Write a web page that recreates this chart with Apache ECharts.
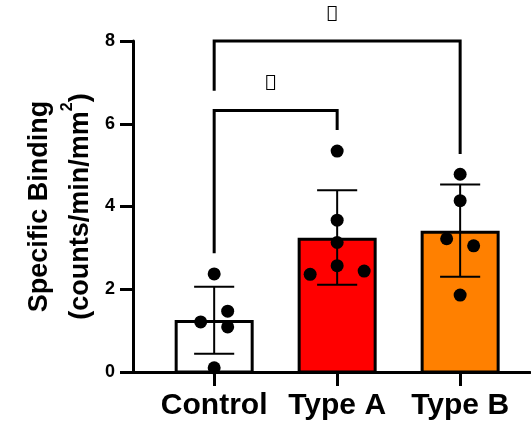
<!DOCTYPE html>
<html>
<head>
<meta charset="utf-8">
<script src="https://cdn.jsdelivr.net/npm/echarts@6/dist/echarts.min.js"></script>
<style>html,body{margin:0;padding:0;background:#fff}#c{width:531px;height:429px}</style>
</head>
<body>
<div id="c"></div>
<script>
// ---- data ----
const categories = ['Control', 'Type A', 'Type B'];
const barMeans = [1.22, 3.21, 3.38];
const errLow = [0.44, 2.11, 2.30];
const errHigh = [2.06, 4.39, 4.53];
const pointsControl = [2.37, 1.21, 1.47, 1.09, 0.10];
const pointsTypeA = [5.34, 3.67, 3.13, 2.57, 2.36, 2.44];
const pointsTypeB = [4.78, 4.14, 3.22, 3.05, 1.86];
const yTicks = [0, 2, 4, 6, 8];
// brackets: [fromCategory, toCategory, topValue, leftEndValue, rightEndValue]
const brackets = [[0, 2, 8.0, 6.80, 5.27], [0, 1, 6.32, 2.87, 5.85]];
const bracketText = ['\uE000', '\uE000'];

// ---- layout (not data) ----
const jitterPx = [[0, -13.5, 13.5, 13.5, 0], [0, 0, 0, 0, -27, 27], [0, 0, -13.5, 13.5, 0]];
const barColors = ['#ffffff', '#ff0000', '#ff8000'];
const FONT = '"Liberation Sans", Arial, sans-serif';
const BAR_W = 0.618;
const CAP_W = 0.163;

const allPoints = [pointsControl, pointsTypeA, pointsTypeB];
const scatterData = [];
allPoints.forEach((arr, ci) => arr.forEach((v, pi) => scatterData.push([ci, v, jitterPx[ci][pi]])));

const chart = echarts.init(document.getElementById('c'), null, {renderer: 'canvas'});
chart.setOption({
  backgroundColor: '#ffffff',
  animation: false,
  grid: {left: 133, right: 1, top: 41, bottom: 57, containLabel: false},
  xAxis: {
    type: 'value', min: -0.66, max: 2.568,
    splitLine: {show: false},
    axisLine: {show: true, onZero: false, lineStyle: {color: '#000', width: 3}},
    axisTick: {show: true, customValues: [0, 1, 2], length: 14, lineStyle: {color: '#000', width: 3}},
    axisLabel: {show: true, customValues: [0, 1, 2], formatter: v => categories[Math.round(v)],
      color: '#000', fontFamily: FONT, fontWeight: 'bold', fontSize: 30, margin: 19}
  },
  yAxis: {
    type: 'value', min: 0, max: 8, interval: 2,
    splitLine: {show: false},
    axisLine: {show: true, onZero: false, lineStyle: {color: '#000', width: 3}},
    axisTick: {show: true, length: 13, lineStyle: {color: '#000', width: 3}},
    axisLabel: {color: '#000', fontFamily: FONT, fontWeight: 'bold', fontSize: 18, margin: 18,
      formatter: v => yTicks.indexOf(v) >= 0 ? String(v) : ''},
    name: '{t|Specific Binding}\n{t|(counts/min/mm}{s|2}{t|)}',
    nameLocation: 'middle', nameGap: 32,
    nameTextStyle: {
      color: '#000', fontFamily: FONT, fontWeight: 'bold', fontSize: 27,
      rich: {
        t: {color: '#000', fontFamily: FONT, fontWeight: 'bold', fontSize: 27, lineHeight: 41},
        s: {color: '#000', fontFamily: FONT, fontWeight: 'bold', fontSize: 16, lineHeight: 41, verticalAlign: 'top'}
      }
    }
  },
  series: [
    {
      type: 'custom', z: 2, clip: false,
      data: barMeans.map((v, i) => [i, v]),
      renderItem: (params, api) => {
        const x = api.value(0), v = api.value(1);
        const p0 = api.coord([x, 0]), p1 = api.coord([x, v]);
        const w = api.size([BAR_W, 0])[0];
        return {type: 'rect', shape: {x: p1[0] - w / 2, y: p1[1], width: w, height: p0[1] - p1[1]},
          style: {fill: barColors[params.dataIndex], stroke: '#000', lineWidth: 3}};
      }
    },
    {
      type: 'custom', z: 3, clip: false,
      data: errLow.map((lo, i) => [i, lo, errHigh[i]]),
      renderItem: (params, api) => {
        const x = api.value(0);
        const lo = api.coord([x, api.value(1)]), hi = api.coord([x, api.value(2)]);
        const cw = api.size([CAP_W, 0])[0];
        const st = {stroke: '#000', lineWidth: 2};
        return {type: 'group', children: [
          {type: 'line', shape: {x1: lo[0], y1: lo[1], x2: hi[0], y2: hi[1]}, style: st},
          {type: 'line', shape: {x1: lo[0] - cw, y1: lo[1], x2: lo[0] + cw, y2: lo[1]}, style: st},
          {type: 'line', shape: {x1: hi[0] - cw, y1: hi[1], x2: hi[0] + cw, y2: hi[1]}, style: st}
        ]};
      }
    },
    {
      type: 'custom', z: 4, clip: false,
      data: scatterData,
      renderItem: (params, api) => {
        const p = api.coord([api.value(0), api.value(1)]);
        return {type: 'circle', shape: {cx: p[0] + api.value(2), cy: p[1], r: 6.5}, style: {fill: '#000'}};
      }
    },
    {
      type: 'custom', z: 5, clip: false,
      data: brackets,
      renderItem: (params, api) => {
        const a = api.value(0), b = api.value(1);
        const pl = api.coord([a, api.value(3)]), tl = api.coord([a, api.value(2)]);
        const tr = api.coord([b, api.value(2)]), pr = api.coord([b, api.value(4)]);
        return {type: 'group', children: [
          {type: 'polyline', shape: {points: [pl, tl, tr, pr]}, style: {stroke: '#000', lineWidth: 3, fill: null, lineJoin: 'miter'}},
          {type: 'text', x: (tl[0] + tr[0]) / 2 - 5, y: tl[1] - 26,
            style: {text: bracketText[params.dataIndex], fontFamily: '"Noto Sans"', fontSize: 21, fill: '#000', align: 'center', verticalAlign: 'middle'}}
        ]};
      }
    }
  ]
});
</script>
</body>
</html>
